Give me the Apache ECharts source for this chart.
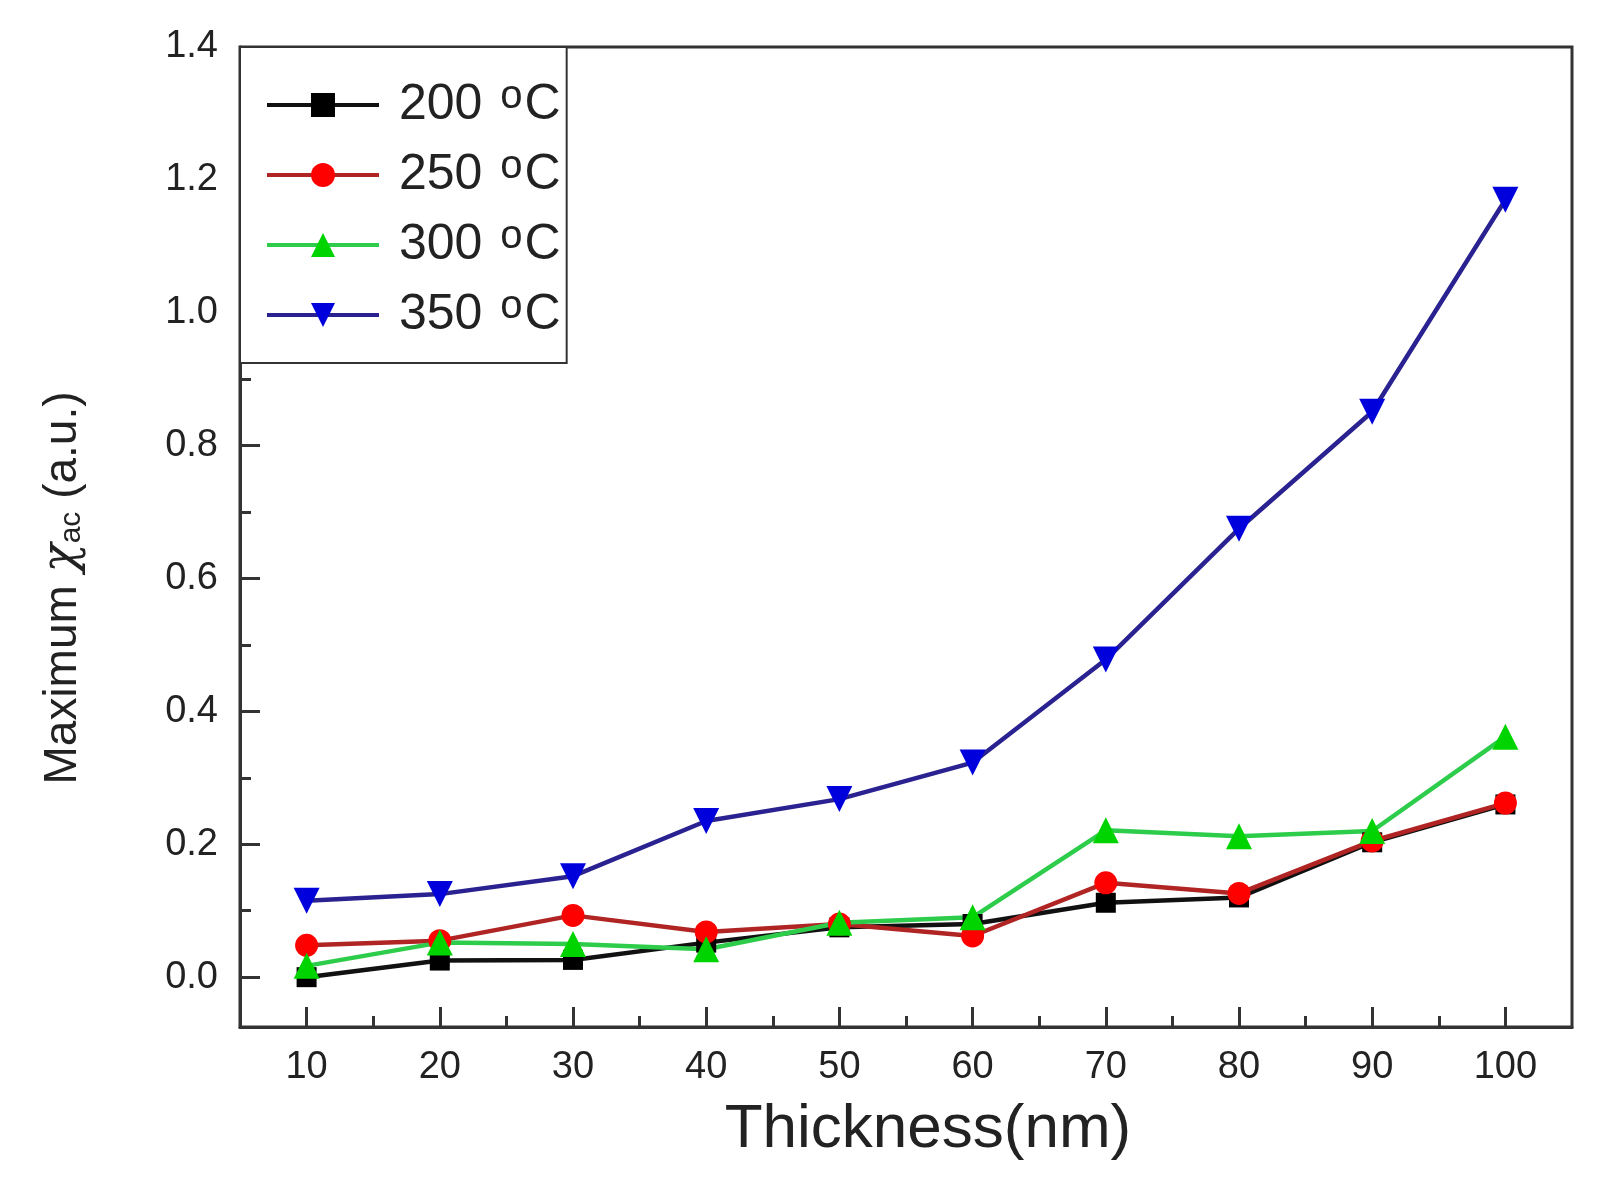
<!DOCTYPE html>
<html lang="en">
<head>
    <meta charset="UTF-8">
    <title>Maximum chi_ac vs thickness</title>
    <script src="https://cdn.jsdelivr.net/npm/echarts@6/dist/echarts.min.js"></script>
    <style>
        html,body{margin:0;padding:0;background:#fff;}
        #main{width:1610px;height:1195px;}
    </style>
</head>
<body>
<div id="main"></div>
<script>
    // thickness (nm)
    var thickness = [10, 20, 30, 40, 50, 60, 70, 80, 90, 100]
    // annealing temperatures -> max chi_ac values
    var t200 = [0.0, 0.025, 0.026, 0.052, 0.075, 0.08, 0.112, 0.12, 0.203, 0.26]
    var t250 = [0.048, 0.055, 0.093, 0.068, 0.08, 0.062, 0.142, 0.126, 0.205, 0.262]
    var t300 = [0.017, 0.052, 0.05, 0.042, 0.082, 0.09, 0.221, 0.212, 0.22, 0.362]
    var t350 = [0.115, 0.125, 0.152, 0.235, 0.268, 0.323, 0.478, 0.675, 0.851, 1.17]
    var names = ['200', '250', '300', '350']

    // tick labels
    var xTicks = [10, 20, 30, 40, 50, 60, 70, 80, 90, 100]
    var xMinor = [15, 25, 35, 45, 55, 65, 75, 85, 95]
    var yTicks = [0, 0.2, 0.4, 0.6, 0.8, 1.0, 1.2, 1.4]
    var yMinor = [0.1, 0.3, 0.5, 0.7, 0.9, 1.1, 1.3]

    function pairs(ys){
        return thickness.map(function(x, i){ return [x, ys[i]] })
    }

    var font = 'Liberation Sans, Arial, sans-serif'
    var axisColor = '#333'
    var txt = '#222'

    var myChart = echarts.init(document.getElementById('main'))

    function mkSeries(name, data, symbol, lineColor, markColor, size, rotate){
        return {
            name: name,
            type: 'line',
            data: pairs(data),
            symbol: symbol,
            symbolSize: size,
            symbolRotate: rotate || 0,
            showAllSymbol: true,
            lineStyle: {color: lineColor, width: 4.5},
            itemStyle: {color: markColor},
            emphasis: {disabled: true}
        }
    }

    var option = {
        animation: false,
        backgroundColor: '#fff',
        grid: {
            left: 240, right: 38, top: 47, bottom: 168,
            show: true, borderColor: axisColor, borderWidth: 3
        },
        legend: {
            orient: 'vertical',
            left: 240, top: 47,
            data: names,
            itemWidth: 112,
            itemHeight: 30,
            itemGap: 14,
            padding: [30, 6, 20, 25],
            borderColor: axisColor,
            borderWidth: 2,
            backgroundColor: '#fff',
            lineStyle: {width: 4},
            formatter: function(n){ return n + ' {s|o}C' },
            textStyle: {
                fontFamily: font, fontSize: 50, color: txt, lineHeight: 56,
                padding: [0, 0, 0, 15],
                rich: {
                    s: {fontFamily: font, fontSize: 40, color: txt, verticalAlign: 'top', lineHeight: 12, padding: [0, 2, 8, 4]}
                }
            }
        },
        xAxis: [{
            type: 'value', min: 5, max: 105,
            splitLine: {show: false},
            axisLine: {onZero: false, lineStyle: {color: axisColor, width: 3}},
            axisTick: {inside: true, length: 20, customValues: xTicks, lineStyle: {color: axisColor, width: 3}},
            axisLabel: {customValues: xTicks, margin: 22, fontFamily: font, fontSize: 38, color: txt},
            name: 'Thickness(nm)',
            nameLocation: 'middle',
            nameGap: 72,
            nameTextStyle: {fontFamily: font, fontSize: 62, color: txt, padding: [0, 0, 0, 44]}
        }, {
            type: 'value', min: 5, max: 105, position: 'bottom',
            splitLine: {show: false},
            axisLine: {show: false, onZero: false},
            axisTick: {inside: true, length: 11, customValues: xMinor, lineStyle: {color: axisColor, width: 3}},
            axisLabel: {show: false}
        }],
        yAxis: [{
            type: 'value', min: -0.075, max: 1.4,
            splitLine: {show: false},
            axisLine: {show: true, onZero: false, lineStyle: {color: axisColor, width: 3}},
            axisTick: {show: true, inside: true, length: 20, customValues: yTicks, lineStyle: {color: axisColor, width: 3}},
            axisLabel: {
                customValues: yTicks, margin: 22, fontFamily: font, fontSize: 38, color: txt,
                formatter: function(v){ return v.toFixed(1) }
            },
            name: 'Maximum {g|χ}{sub|ac} (a.u.)',
            nameLocation: 'middle',
            nameGap: 153,
            nameTextStyle: {
                fontFamily: font, fontSize: 46, color: txt, padding: [0, 102, 0, 0],
                rich: {
                    g: {fontFamily: 'DejaVu Serif', fontStyle: 'italic', fontSize: 48, color: txt},
                    sub: {fontFamily: font, fontSize: 30, color: txt, verticalAlign: 'bottom', padding: [16, 0, 0, 0]}
                }
            }
        }, {
            type: 'value', min: -0.075, max: 1.4, position: 'left',
            splitLine: {show: false},
            axisLine: {show: false, onZero: false},
            axisTick: {show: true, inside: true, length: 11, customValues: yMinor, lineStyle: {color: axisColor, width: 3}},
            axisLabel: {show: false}
        }],
        series: [
            mkSeries('200', t200, 'rect', '#111', '#000', 20),
            mkSeries('250', t250, 'circle', '#b02424', '#ff0000', 23),
            mkSeries('300', t300, 'triangle', '#2dcc4a', '#00d400', 26),
            mkSeries('350', t350, 'triangle', '#2a2290', '#0000dd', 26, 180)
        ]
    }
    myChart.setOption(option)
</script>
</body>
</html>
